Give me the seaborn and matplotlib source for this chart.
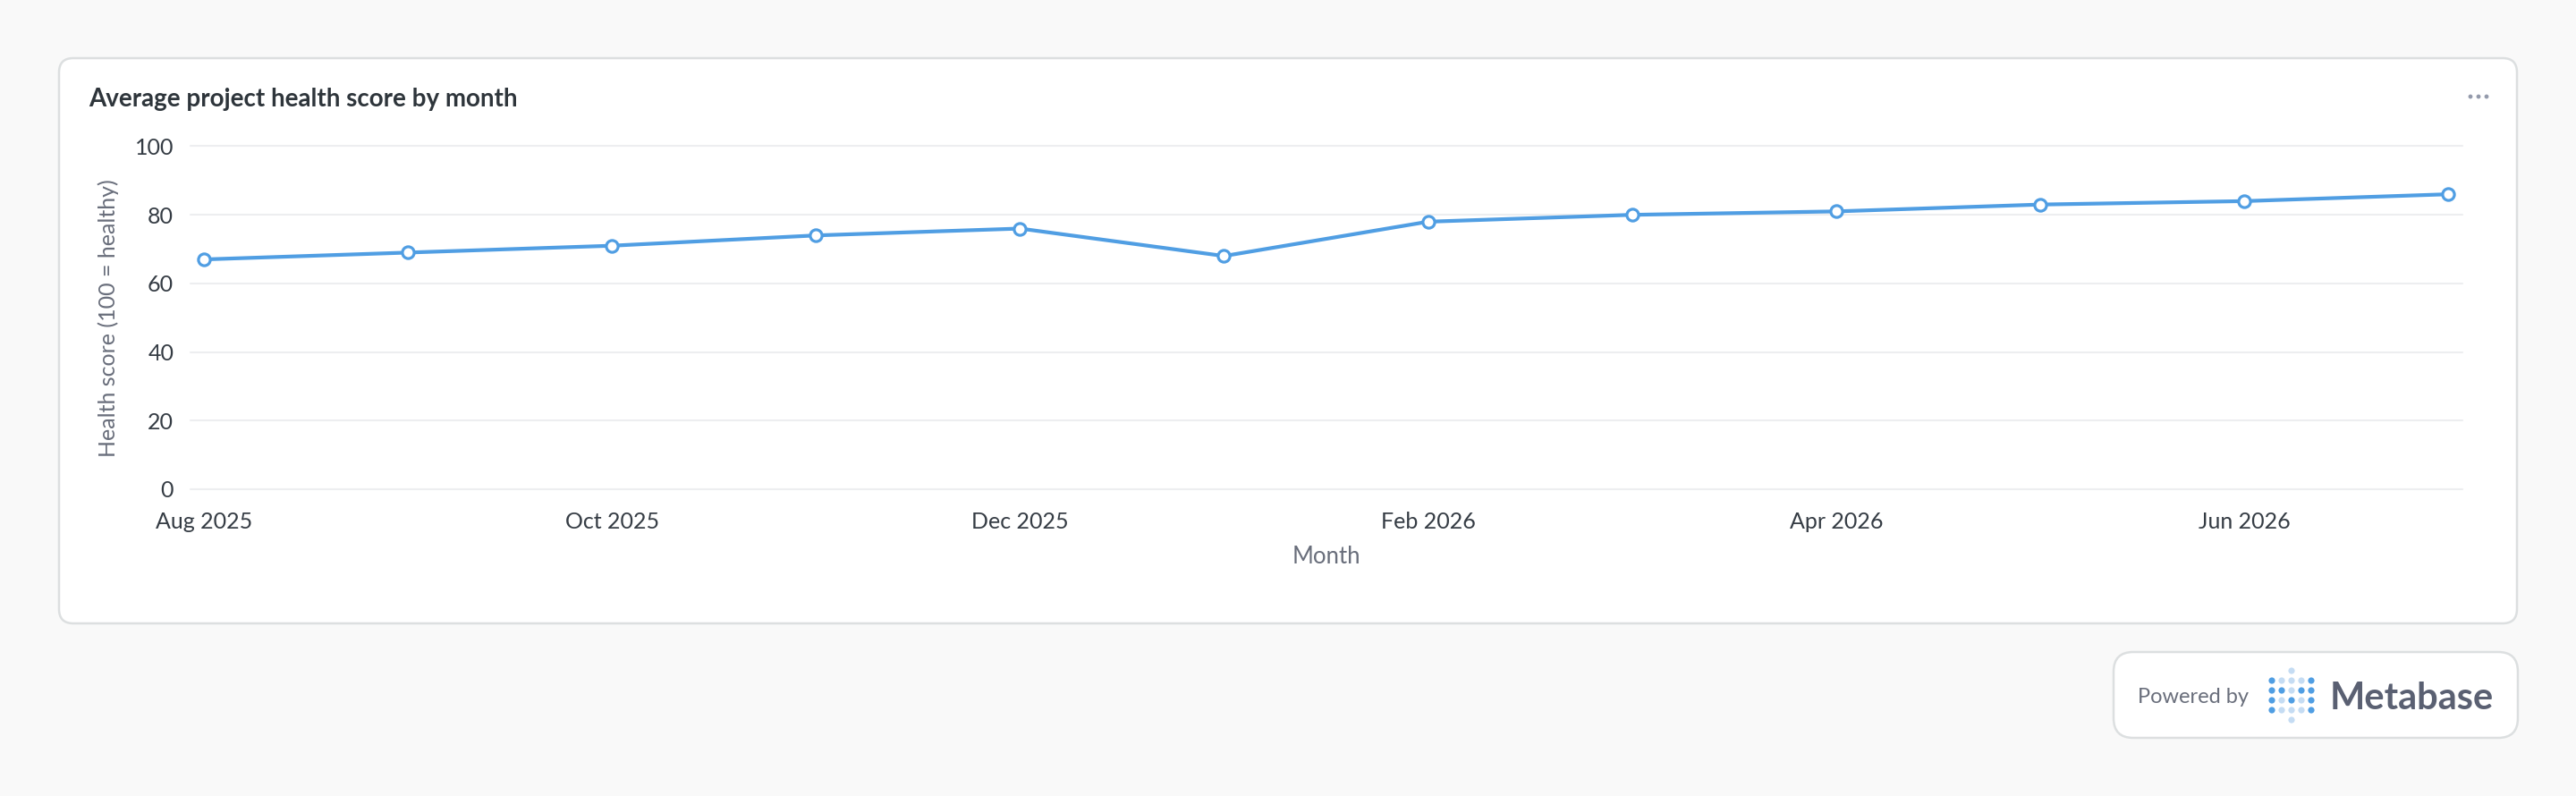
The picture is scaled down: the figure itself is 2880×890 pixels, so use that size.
import matplotlib
matplotlib.use("Agg")
import matplotlib.pyplot as plt
from matplotlib.patches import FancyBboxPatch, Circle
from matplotlib.transforms import IdentityTransform
import seaborn as sns
import pandas as pd

# data
months = ["Aug 2025", "Sep 2025", "Oct 2025", "Nov 2025", "Dec 2025", "Jan 2026",
          "Feb 2026", "Mar 2026", "Apr 2026", "May 2026", "Jun 2026", "Jul 2026"]
scores = [67, 69, 71, 74, 76, 68, 78, 80, 81, 83, 84, 86]
y_ticks = [0, 20, 40, 60, 80, 100]

title = "Average project health score by month"
x_label = "Month"
y_label = "Health score (100 = healthy)"

BLUE = "#509EE3"
LIGHT_BLUE = "#C5DCF3"
DARK = "#2E353B"
GRAY = "#696E7B"
BORDER = "#DCDFE0"

W, H = 2880, 890

sns.set_theme(style="white")
plt.rcParams["font.family"] = ["Lato", "DejaVu Sans"]

fig = plt.figure(figsize=(W / 100, H / 100), dpi=100, facecolor="#F9F9F9")
px = IdentityTransform()


def rounded_box(x0, y0, x1, y1, r):
    # pixel coords measured from the top left
    p = FancyBboxPatch((x0, H - y1), x1 - x0, y1 - y0,
                       boxstyle=f"round,pad=0,rounding_size={r}",
                       transform=px, facecolor="white", edgecolor=BORDER,
                       lw=1.8, zorder=-1)
    fig.add_artist(p)


def dot(x, y, r, color):
    fig.add_artist(Circle((x, H - y), r, transform=px, color=color, lw=0, zorder=2))


# card
rounded_box(66, 65, 2814, 697, 16)
fig.text(99 / W, 1 - 119 / H, title, fontsize=20, fontweight="bold",
         color=DARK, ha="left", va="baseline")
for dx in (2762, 2771, 2780):
    dot(dx, 108, 2.4, "#949AAB")

# chart
df = pd.DataFrame({"month": range(len(months)), "score": scores})
ax = fig.add_axes([213 / W, 1 - 547 / H, (2753 - 213) / W, (547 - 163.5) / H])
ax.set_facecolor("white")
sns.lineplot(data=df, x="month", y="score", ax=ax, color=BLUE, lw=3.0,
             marker="o", markersize=9.5, markerfacecolor="white",
             markeredgecolor=BLUE, markeredgewidth=2.3, clip_on=False, zorder=3)

ax.set_xlim(-0.066, len(months) - 1 + 0.07)
ax.set_ylim(0, 100)
ax.set_yticks(y_ticks)
ax.set_xticks(range(0, len(months), 2), labels=months[::2])
ax.yaxis.grid(True, color="#EDEEF0", lw=1.5)
ax.xaxis.grid(False)
for gl in ax.get_ygridlines():
    gl.set_clip_on(False)
sns.despine(ax=ax, left=True, bottom=True)
ax.tick_params(axis="y", length=0, pad=13.5, labelsize=18, labelcolor="#353C44")
ax.tick_params(axis="x", length=0, pad=18, labelsize=18, labelcolor="#353C44")

ax.set_xlabel(x_label, fontsize=18.5, color=GRAY, va="center")
ax.xaxis.set_label_coords(0.5, (547 - 622) / (547 - 163.5))
ax.set_ylabel(y_label, fontsize=18, color=GRAY, va="center")
ax.yaxis.set_label_coords((121 - 213) / (2753 - 213), 0.5)

# powered-by badge
rounded_box(2363, 729, 2815, 825, 22)
fig.text(2390 / W, 1 - 786 / H, "Powered by", fontsize=17, color=GRAY,
         ha="left", va="baseline")
logo = ["D L L L D",
        "D D L D D",
        "D L D L D",
        "D L L L D"]
cols = [2540, 2551, 2562, 2573, 2584]
rows = [761, 772, 783, 794]
for ry, line in zip(rows, logo):
    for cx, c in zip(cols, line.split()):
        dot(cx, ry, 3.6, BLUE if c == "D" else LIGHT_BLUE)
dot(2562, 750, 3.6, LIGHT_BLUE)
dot(2562, 805, 3.6, LIGHT_BLUE)
fig.text(2605 / W, 1 - 793 / H, "Metabase", fontsize=30, fontweight="bold",
         color="#5A6072", ha="left", va="baseline")

fig.savefig("out.png", dpi=100, facecolor=fig.get_facecolor())
